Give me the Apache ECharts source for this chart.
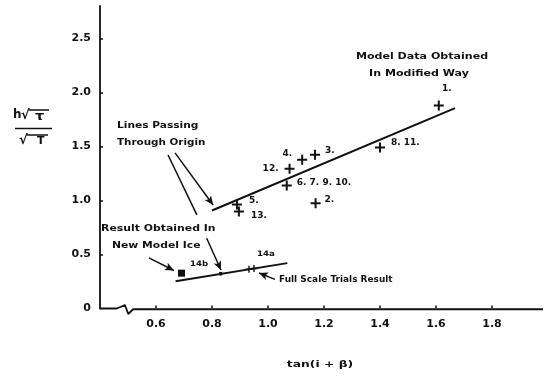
<!DOCTYPE html>
<html>
<head>
<meta charset="utf-8">
<script src="https://cdn.jsdelivr.net/npm/echarts@6/dist/echarts.min.js"></script>
<style>
html, body { margin: 0; padding: 0; background: #fff; }
#chart { width: 551px; height: 376px; }
</style>
</head>
<body>
<div id="chart"></div>
<script>
// ---- axis ticks ----
const xTicks = [0.6, 0.8, 1.0, 1.2, 1.4, 1.6, 1.8];
const yTicks = [0, 0.5, 1.0, 1.5, 2.0, 2.5];

// ---- model tests (numbered as in the test series) ----
const modelLabels = ['1.', '2.', '3.', '4.', '5.', '6. 7. 9. 10.', '8. 11.', '12.', '13.'];
const modelX = [1.61, 1.17, 1.168, 1.122, 0.889, 1.067, 1.40, 1.077, 0.896];
const modelY = [1.88, 0.975, 1.423, 1.377, 0.963, 1.139, 1.491, 1.294, 0.898];

// ---- line through origin for the model data ----
const modelLineX = [0.80, 1.668];
const modelLineY = [0.907, 1.855];

// ---- line through origin for new model ice / full scale ----
const iceLineX = [0.670, 1.069];
const iceLineY = [0.253, 0.420];

// new model ice result (square), point 14b, full scale trials 14a
const newIceX = [0.691];
const newIceY = [0.327];
const p14bX = [0.831];
const p14bY = [0.322];
const trialsX = [0.932, 0.950];
const trialsY = [0.363, 0.370];

// x axis baseline with the break near the origin
const baseX = [0.40, 0.460, 0.489, 0.501, 0.518, 1.982];
const baseY = [0, 0, 0.032, -0.051, -0.007, -0.007];

// leader lines from the annotations
const leaderFromX = [0.668, 0.643, 0.575, 0.781, 1.025];
const leaderFromY = [1.440, 1.421, 0.468, 0.650, 0.270];
const leaderToX = [0.804, 0.746, 0.664, 0.832, 0.968];
const leaderToY = [0.958, 0.866, 0.352, 0.356, 0.329];
const leaderArrow = [true, false, true, true, true];

const FONT = 'DejaVu Sans';
const INK = '#111';
const PLUS = 'path://M4,0H6V4H10V6H6V10H4V6H0V4H4Z';

// label placement for each numbered point
const labelPlace = {
  '1.': { position: 'top', offset: [8, -2] },
  '2.': { position: 'right', offset: [-1, -4] },
  '3.': { position: 'right', offset: [0, -4] },
  '4.': { position: 'left', offset: [0, -6] },
  '5.': { position: 'right', offset: [2, -4] },
  '6. 7. 9. 10.': { position: 'right', offset: [0, -3] },
  '8. 11.': { position: 'right', offset: [1, -5] },
  '12.': { position: 'left', offset: [-1, 0] },
  '13.': { position: 'right', offset: [2, 4] }
};

const pair = (xs, ys) => xs.map((x, i) => [x, ys[i]]);

const modelData = modelX.map((x, i) => ({
  value: [x, modelY[i]],
  name: modelLabels[i],
  label: labelPlace[modelLabels[i]]
}));

const leaderData = leaderFromX.map((x, i) => [
  { coord: [x, leaderFromY[i]], symbol: 'none' },
  { coord: [leaderToX[i], leaderToY[i]], symbol: leaderArrow[i] ? 'arrow' : 'none', symbolSize: [6, 9] }
]);

const chart = echarts.init(document.getElementById('chart'), null, { renderer: 'canvas' });

// wide, bold lettering for the annotations
const txt = (text, x, y, size, align, sx) => ({
  type: 'text', x: x, y: y, scaleX: sx || 1.22,
  style: { text: text, fill: INK, font: 'bold ' + size + 'px "' + FONT + '"', textAlign: align || 'left', textVerticalAlign: 'middle' }
});
const seg = (x1, y1, x2, y2, w) => ({
  type: 'line', shape: { x1: x1, y1: y1, x2: x2, y2: y2 },
  style: { stroke: INK, lineWidth: w || 1.5 }
});

chart.setOption({
  animation: false,
  backgroundColor: '#fff',
  grid: { left: 100, right: 3, top: 6, bottom: 67.5, containLabel: false },
  xAxis: {
    type: 'value', min: 0.4, max: 2.0, interval: 0.2,
    axisLine: { show: false },
    axisTick: { show: true, inside: true, length: 3, customValues: xTicks, lineStyle: { color: INK, width: 1.5 } },
    axisLabel: {
      customValues: xTicks, margin: 10, color: INK,
      fontFamily: FONT, fontWeight: 'bold', fontSize: 11,
      formatter: v => v.toFixed(1)
    },
    splitLine: { show: false }
  },
  yAxis: {
    type: 'value', min: 0, max: 2.8, interval: 0.5,
    axisLine: { show: true, onZero: false, lineStyle: { color: INK, width: 1.8 } },
    axisTick: { show: true, inside: true, length: 3, customValues: yTicks.slice(1), lineStyle: { color: INK, width: 1.5 } },
    axisLabel: {
      customValues: yTicks, margin: 9, color: INK,
      fontFamily: FONT, fontWeight: 'bold', fontSize: 11,
      formatter: v => (v === 0 ? '0' : v.toFixed(1))
    },
    splitLine: { show: false }
  },
  series: [
    {
      name: 'x axis', type: 'line', data: pair(baseX, baseY), clip: false,
      symbol: 'none', silent: true,
      lineStyle: { color: INK, width: 1.8 }
    },
    {
      name: 'model line', type: 'line', data: pair(modelLineX, modelLineY),
      symbol: 'none', silent: true,
      lineStyle: { color: INK, width: 2 },
      markLine: {
        silent: true, animation: false,
        label: { show: false },
        lineStyle: { color: INK, width: 1.5, type: 'solid' },
        emphasis: { disabled: true },
        data: leaderData
      }
    },
    {
      name: 'ice line', type: 'line', data: pair(iceLineX, iceLineY),
      symbol: 'none', silent: true,
      lineStyle: { color: INK, width: 2 }
    },
    {
      name: 'model data', type: 'scatter', data: modelData,
      symbol: PLUS, symbolSize: 10,
      itemStyle: { color: INK, opacity: 1 },
      label: {
        show: true, formatter: p => p.name, color: INK,
        fontFamily: FONT, fontWeight: 'bold', fontSize: 9
      }
    },
    {
      name: 'new model ice', type: 'scatter', data: pair(newIceX, newIceY),
      symbol: 'rect', symbolSize: 7, itemStyle: { color: INK, opacity: 1 }
    },
    {
      name: '14b', type: 'scatter', data: pair(p14bX, p14bY),
      symbol: 'circle', symbolSize: 4, itemStyle: { color: INK, opacity: 1 }
    },
    {
      name: 'full scale trials', type: 'scatter', data: pair(trialsX, trialsY),
      symbol: PLUS, symbolSize: 7, itemStyle: { color: INK, opacity: 1 }
    }
  ],
  graphic: [
    // y axis title: h√τ over √T
    txt('h', 13, 115, 12, 'left', 1),
    txt('√', 21, 116, 13, 'left', 1),
    seg(28.5, 110, 49, 110, 1.5),
    txt('τ', 35, 117, 12, 'left', 1.2),
    seg(15, 128.5, 52, 128.5, 1.6),
    txt('√', 19, 141, 13, 'left', 1),
    seg(26.5, 135, 48, 135, 1.5),
    txt('T', 37, 141, 11, 'left', 1),
    // x axis title
    txt('tan(i + β)', 320, 365, 9.5, 'center', 1.3),
    // annotations
    txt('Model Data Obtained', 422, 57, 9, 'center', 1.23),
    txt('In Modified Way', 419, 74, 9, 'center', 1.23),
    txt('Lines Passing', 117, 126, 8.5, 'left', 1.25),
    txt('Through Origin', 117, 143, 8.5),
    txt('Result Obtained In', 101, 229, 8.5, 'left', 1.28),
    txt('New Model Ice', 112, 246, 8.5, 'left', 1.27),
    txt('14b', 190, 264, 7.5, 'left', 1.15),
    txt('14a', 257, 254, 7.5, 'left', 1.15),
    txt('Full Scale Trials Result', 279, 280, 8, 'left', 1.12)
  ]
});
</script>
</body>
</html>
